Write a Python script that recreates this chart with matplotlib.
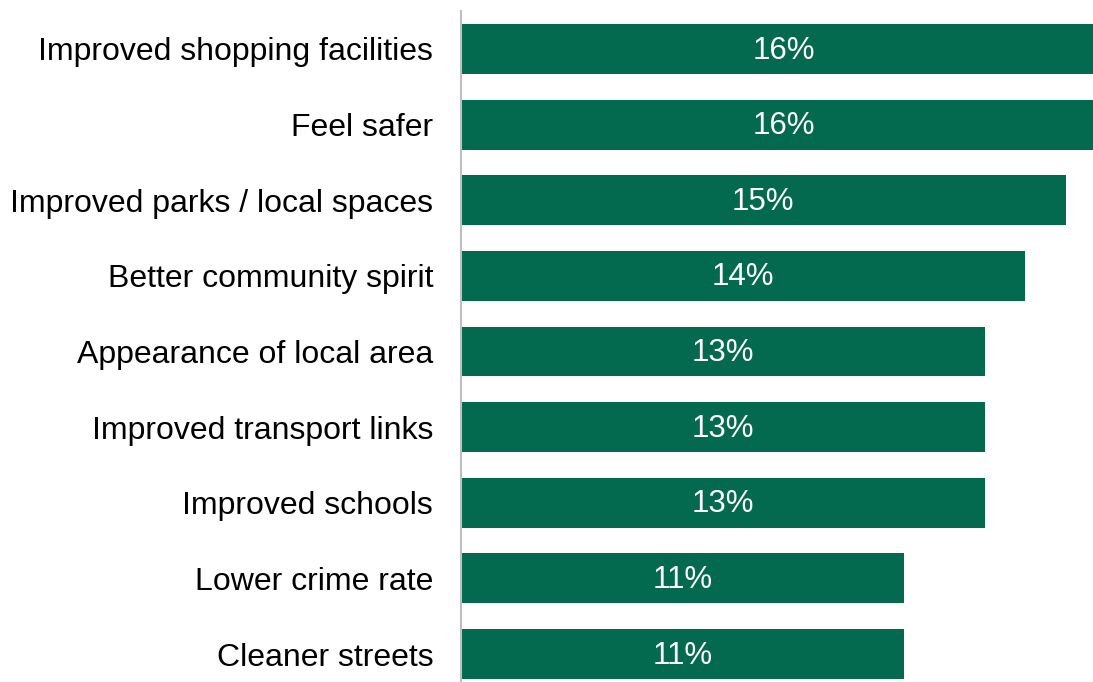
import matplotlib.pyplot as plt

plt.rcParams['font.family'] = ['Liberation Sans', 'DejaVu Sans']

categories = ["Improved shopping facilities", "Feel safer", "Improved parks / local spaces",
              "Better community spirit", "Appearance of local area", "Improved transport links",
              "Improved schools", "Lower crime rate", "Cleaner streets"]
values = [16, 16, 15, 14, 13, 13, 13, 11, 11]
labels = ["16%", "16%", "15%", "14%", "13%", "13%", "13%", "11%", "11%"]

bar_colour = "#036a4f"

fig = plt.figure(figsize=(10.93, 6.82), dpi=100)
ax = fig.add_axes([461 / 1093, -0.0144, 1 - 461 / 1093, 0.998])

pos = list(range(len(categories)))
bars = ax.barh(pos, values, height=0.66, color=bar_colour)

# value labels sit in the middle of each full bar
for p, v, lab in zip(pos, values, labels):
    ax.text(v / 2, p + 0.02, lab, ha="center", va="center",
            color="white", fontsize=22.5)

ax.set_xlim(0, 15.68)
ax.set_ylim(len(categories) - 0.5, -0.5)
ax.set_yticks(pos)
ax.set_yticklabels(categories, fontsize=23)
ax.tick_params(axis="y", length=0, pad=20)
ax.set_xticks([])

for s in ["top", "right", "bottom"]:
    ax.spines[s].set_visible(False)
ax.spines["left"].set_color("#bfbfbf")
ax.spines["left"].set_linewidth(1.5)

fig.savefig("out.png", dpi=100)
